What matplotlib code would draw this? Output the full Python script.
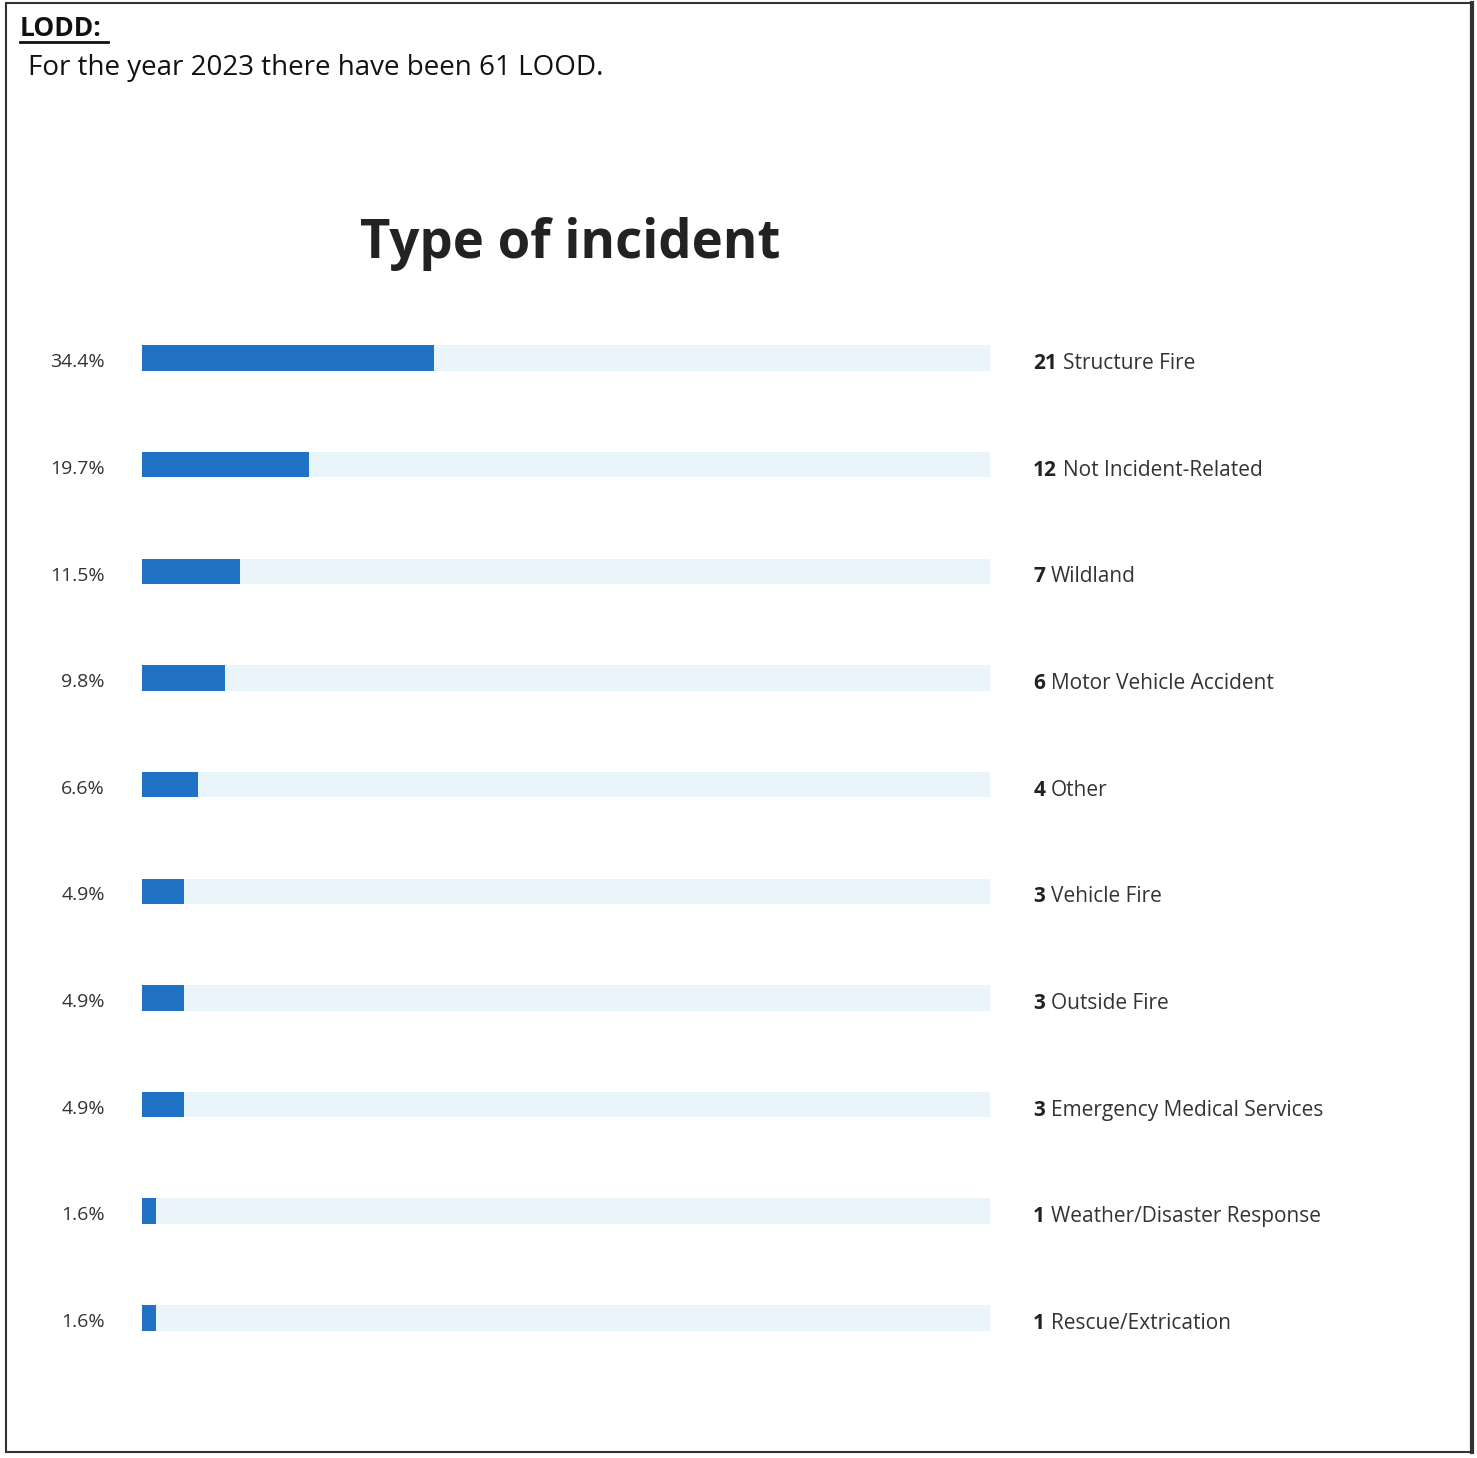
import matplotlib.pyplot as plt
from matplotlib.lines import Line2D
from matplotlib.patches import Rectangle

categories = ["Structure Fire", "Not Incident-Related", "Wildland", "Motor Vehicle Accident",
              "Other", "Vehicle Fire", "Outside Fire", "Emergency Medical Services",
              "Weather/Disaster Response", "Rescue/Extrication"]
counts = [21, 12, 7, 6, 4, 3, 3, 3, 1, 1]
percents = [34.4, 19.7, 11.5, 9.8, 6.6, 4.9, 4.9, 4.9, 1.6, 1.6]

BAR = "#1f72c4"
TRACK = "#eaf4fb"

fig = plt.figure(figsize=(14.77, 14.58), dpi=100)
plt.rcParams['font.family'] = ['Open Sans', 'DejaVu Sans']

# outer frame
fig.add_artist(Rectangle((6 / 1477, 1 - 1452 / 1458), 1466 / 1477, 1449 / 1458,
                         transform=fig.transFigure, fill=False, ec="#333333", lw=1.5))
fig.add_artist(Line2D([1472 / 1477, 1472 / 1477], [1 - 1452 / 1458, 1 - 3 / 1458],
                      color="#333333", lw=3))

fig.text(20 / 1477, 1 - 28 / 1458, "LODD:", fontsize=19, fontweight="bold",
         va="center", ha="left", color="#111111")
fig.add_artist(Line2D([20 / 1477, 108 / 1477], [1 - 42 / 1458, 1 - 42 / 1458],
                      color="#111111", lw=2))
fig.text(28 / 1477, 1 - 68 / 1458, "For the year 2023 there have been 61 LOOD.",
         fontsize=20, va="center", ha="left", color="#111111")

fig.text(570 / 1477, 1 - 244 / 1458, "Type of incident", fontsize=38,
         fontweight="bold", ha="center", va="center", color="#222222")

ax = fig.add_axes([142 / 1477, 0.0595, 848 / 1477, 0.7315])
y = list(range(len(categories)))
ax.barh(y, [100] * len(y), height=0.24, color=TRACK, zorder=1)
ax.barh(y, percents, height=0.24, color=BAR, zorder=2)
ax.set_xlim(0, 100)
ax.set_ylim(len(y) - 0.5, -0.5)
ax.axis("off")

for i, (p, c, name) in enumerate(zip(percents, counts, categories)):
    ax.annotate(f"{p:.1f}%", (-4.4, i), xytext=(0, -3), textcoords="offset points",
                ha="right", va="center", fontsize=14, color="#333333",
                annotation_clip=False)
    t = ax.annotate(f"{c}", (105.1, i), xytext=(0, -4), textcoords="offset points",
                    ha="left", va="center", fontsize=15, fontweight="bold",
                    color="#222222", annotation_clip=False)
    ax.annotate(name, xy=(1, 0.5), xycoords=t, xytext=(4, 0),
                textcoords="offset points", ha="left", va="center", fontsize=15,
                color="#333333", annotation_clip=False)

fig.savefig("out.png", dpi=100)
